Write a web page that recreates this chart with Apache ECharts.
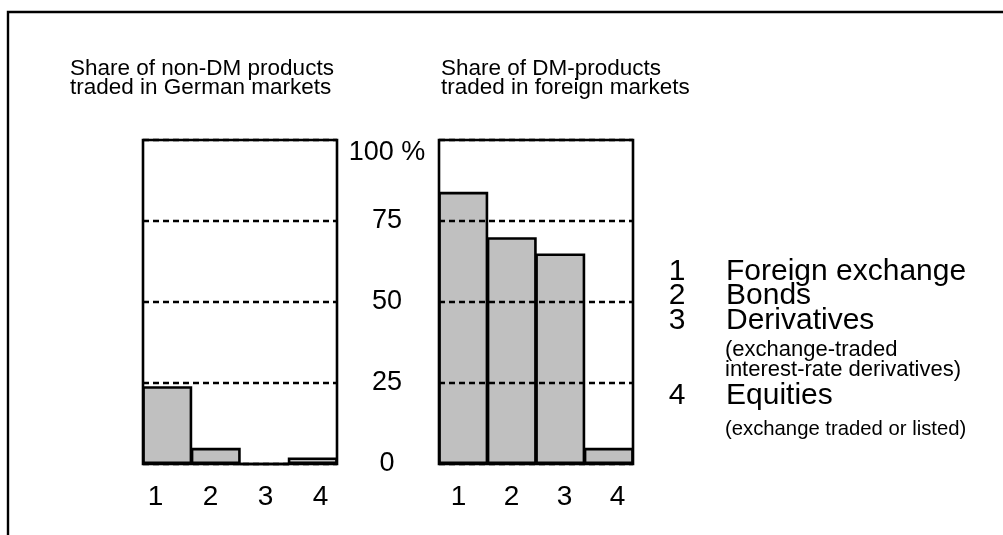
<!DOCTYPE html>
<html>
<head>
<meta charset="utf-8">
<script src="https://cdn.jsdelivr.net/npm/echarts@6/dist/echarts.min.js"></script>
<style>
html,body{margin:0;padding:0;background:#fff;}
#chart{width:1003px;height:535px;}
</style>
</head>
<body>
<div id="chart"></div>
<script>
// ---- data ----
const categories = ['1', '2', '3', '4'];
const nonDmInGerman = [24, 5, 0, 2];      // share of non-DM products traded in German markets (%)
const dmInForeign = [84, 70, 65, 5];      // share of DM products traded in foreign markets (%)
const yMin = 0, yMax = 100, yStep = 25;
const leftTitle = ['Share of non-DM products', 'traded in German markets'];
const rightTitle = ['Share of DM-products', 'traded in foreign markets'];
const legendNums = ['1', '2', '3', '4'];
const legendNames = ['Foreign exchange', 'Bonds', 'Derivatives', 'Equities'];
const derivNote = ['(exchange-traded', 'interest-rate derivatives)'];
const equityNote = '(exchange traded or listed)';

const FONT = 'Liberation Sans, Arial, Helvetica, sans-serif';
const chart = echarts.init(document.getElementById('chart'), null, {renderer: 'canvas'});

function plotX(gi) {
  return {
    gridIndex: gi, type: 'category', data: categories,
    axisLine: {show: false}, axisTick: {show: false}, axisLabel: {show: false},
    splitLine: {show: false}
  };
}
function labelX(gi) {
  return {
    gridIndex: gi, type: 'category', data: categories,
    axisLine: {show: false}, axisTick: {show: false},
    axisLabel: {show: true, fontSize: 28, color: '#000', fontFamily: FONT, margin: 0, verticalAlign: 'middle', interval: 0},
    splitLine: {show: false}
  };
}
function plotY(gi, showLabels) {
  return {
    gridIndex: gi, type: 'value', min: yMin, max: yMax, interval: yStep,
    position: 'right', z: 5,
    axisLine: {show: false}, axisTick: {show: false},
    splitLine: {show: true, lineStyle: {color: '#000', width: 2.4, type: [6, 4]}},
    axisLabel: {
      show: showLabels, align: 'center', margin: 50, fontSize: 27, color: '#000', fontFamily: FONT,
      formatter: v => v === yMax ? '{top|' + v + ' %}' : String(v),
      rich: {top: {fontSize: 27, color: '#000', fontFamily: FONT, padding: [26, 0, 0, 0]}}
    }
  };
}
const barStyle = {color: '#c0c0c0', borderColor: '#000', borderWidth: 2.6};

const texts = [];
leftTitle.forEach((t, i) => texts.push({type: 'text', left: 70, top: 57 + i * 19,
  style: {text: t, fontSize: 22.5, fill: '#000', fontFamily: FONT}}));
rightTitle.forEach((t, i) => texts.push({type: 'text', left: 441, top: 57 + i * 19,
  style: {text: t, fontSize: 22.5, fill: '#000', fontFamily: FONT}}));
const legY = [272, 296, 321, 396];
legendNums.forEach((n, i) => {
  texts.push({type: 'text', x: 677, y: legY[i], style: {text: n, fontSize: 30, fill: '#000', fontFamily: FONT, align: 'center', verticalAlign: 'middle'}});
  texts.push({type: 'text', x: 726, y: legY[i], style: {text: legendNames[i], fontSize: 30, fill: '#000', fontFamily: FONT, align: 'left', verticalAlign: 'middle'}});
});
derivNote.forEach((t, i) => texts.push({type: 'text', x: 725, y: 350 + i * 20,
  style: {text: t, fontSize: 22, fill: '#000', fontFamily: FONT, verticalAlign: 'middle'}}));
texts.push({type: 'text', x: 725, y: 429, style: {text: equityNote, fontSize: 20.3, fill: '#000', fontFamily: FONT, verticalAlign: 'middle'}});
texts.push({type: 'rect', shape: {x: 8, y: 12, width: 1100, height: 600}, silent: true,
  style: {fill: 'none', stroke: '#000', lineWidth: 2.4}});

chart.setOption({
  backgroundColor: '#fff',
  animation: false,
  grid: [
    {left: 143, top: 140, width: 194, height: 324, show: true, borderColor: '#000', borderWidth: 2.6, backgroundColor: 'transparent'},
    {left: 439, top: 140, width: 194, height: 324, show: true, borderColor: '#000', borderWidth: 2.6, backgroundColor: 'transparent'},
    {left: 128, top: 470, width: 220, height: 27},
    {left: 432, top: 470, width: 212, height: 27}
  ],
  xAxis: [plotX(0), plotX(1), labelX(2), labelX(3)],
  yAxis: [plotY(0, true), plotY(1, false),
    {gridIndex: 2, type: 'value', show: false}, {gridIndex: 3, type: 'value', show: false}],
  series: [
    {type: 'bar', xAxisIndex: 0, yAxisIndex: 0, data: nonDmInGerman, barWidth: '103%', barGap: '0%', barCategoryGap: '0%', itemStyle: barStyle, z: 2},
    {type: 'bar', xAxisIndex: 1, yAxisIndex: 1, data: dmInForeign, barWidth: '103%', barGap: '0%', barCategoryGap: '0%', itemStyle: barStyle, z: 2}
  ],
  graphic: texts
});
</script>
</body>
</html>
